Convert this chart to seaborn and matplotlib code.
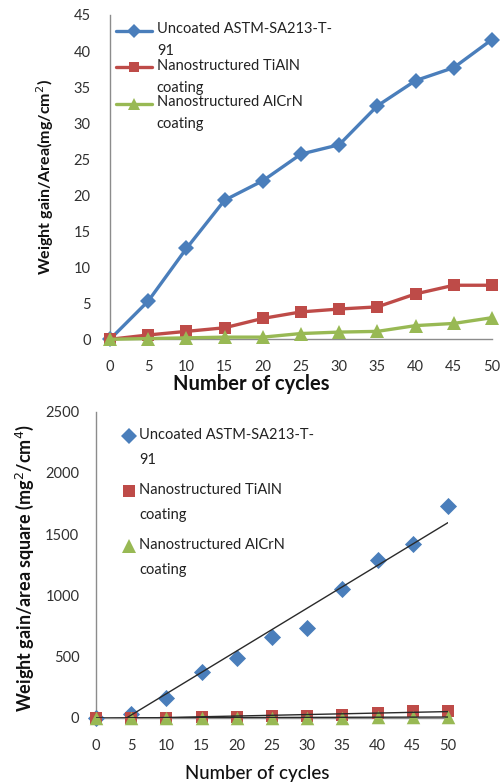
import numpy as np
import pandas as pd
import matplotlib
matplotlib.use("Agg")
import matplotlib.pyplot as plt
import seaborn as sns
from matplotlib.lines import Line2D
from matplotlib.legend_handler import HandlerLine2D

sns.set_theme(style="white")
plt.rcParams["font.family"] = ["Lato", "DejaVu Sans"]

# Data
cycles = [0, 5, 10, 15, 20, 25, 30, 35, 40, 45, 50]
uncoated = [0, 5.3, 12.6, 19.3, 22.0, 25.7, 27.0, 32.4, 35.9, 37.7, 41.6]
tialn = [0, 0.6, 1.1, 1.6, 2.9, 3.8, 4.2, 4.5, 6.3, 7.5, 7.5]
alcrn = [0, 0.1, 0.2, 0.3, 0.3, 0.8, 1.0, 1.1, 1.9, 2.2, 3.0]

uncoated_sq = [0, 28, 159, 372, 484, 660, 729, 1050, 1289, 1421, 1731]
tialn_sq = [0, 0.36, 1.2, 2.6, 8.4, 14.4, 17.6, 20.3, 39.7, 56.3, 56.3]
alcrn_sq = [0, 0.01, 0.04, 0.09, 0.09, 0.64, 1.0, 1.2, 3.6, 4.8, 9.0]

series_names = ["Uncoated ASTM-SA213-T-\n91",
                "Nanostructured TiAlN\ncoating",
                "Nanostructured AlCrN\ncoating"]
colors = ["#4A7EBB", "#BE4B48", "#98B954"]
markers = ["D", "s", "^"]
msizes = [8.5, 9, 9.5]

x_ticks = [0, 5, 10, 15, 20, 25, 30, 35, 40, 45, 50]
y_ticks_top = [0, 5, 10, 15, 20, 25, 30, 35, 40, 45]
y_ticks_bot = [0, 500, 1000, 1500, 2000, 2500]

df_top = pd.DataFrame({
    "cycles": cycles * 3,
    "value": uncoated + tialn + alcrn,
    "series": sum([[n] * len(cycles) for n in series_names], []),
})
df_bot = pd.DataFrame({
    "cycles": cycles * 3,
    "value": uncoated_sq + tialn_sq + alcrn_sq,
    "series": sum([[n] * len(cycles) for n in series_names], []),
})


class FirstLineHandler(HandlerLine2D):
    """Legend handle raised so it sits beside the first line of a wrapped label."""

    def __init__(self, shift, **kw):
        super().__init__(**kw)
        self.shift = shift

    def create_artists(self, legend, orig_handle, xdescent, ydescent, width,
                       height, fontsize, trans):
        arts = super().create_artists(legend, orig_handle, xdescent, ydescent,
                                      width, height, fontsize, trans)
        for a in arts:
            a.set_ydata(np.asarray(a.get_ydata(), dtype=float) + self.shift)
        return arts


W, H = 501, 782
fig = plt.figure(figsize=(W / 100, H / 100), dpi=100)

axis_gray = "#8C8C8C"
tick_color = "#303030"

# ---- Top panel: weight gain per area ----
ax1 = fig.add_axes([110 / W, 1 - 339.3 / H, (492 - 110) / W, (339.3 - 15) / H])
for name, c, m, ms in zip(series_names, colors, markers, msizes):
    sub = df_top[df_top["series"] == name]
    sns.lineplot(data=sub, x="cycles", y="value", ax=ax1, color=c, marker=m,
                 markersize=ms, markeredgewidth=0, linewidth=2.4,
                 clip_on=False, legend=False, zorder=3)
ax1.set_xlim(0, 50)
ax1.set_ylim(0, 45)
ax1.set_xticks(x_ticks)
ax1.set_yticks(y_ticks_top)
ax1.tick_params(axis="both", length=0, labelsize=10.5, colors=tick_color)
ax1.tick_params(axis="y", pad=14)
ax1.tick_params(axis="x", pad=15)
for s in ["top", "right"]:
    ax1.spines[s].set_visible(False)
for s in ["left", "bottom"]:
    ax1.spines[s].set_color(axis_gray)
    ax1.spines[s].set_linewidth(1)
ax1.set_xlabel("Number of cycles", fontsize=14.5, fontweight="bold", color="#111111")
ax1.xaxis.set_label_coords((251 - 110) / (492 - 110), -(384 - 339.3) / (339.3 - 15))
ax1.xaxis.label.set_va("center")
ax1.set_ylabel("Weight gain/Area(mg/cm$^2$)", fontsize=11.5, fontweight="bold", color="#111111")
ax1.yaxis.set_label_coords(-(110 - 45) / (492 - 110), 0.5)
ax1.yaxis.label.set_va("center")

handles1 = [Line2D([], [], color=c, marker=m, markersize=ms * 0.85, markeredgewidth=0,
                   linewidth=2.4) for c, m, ms in zip(colors, markers, msizes)]
leg1 = ax1.legend(handles1, series_names, loc="upper left",
                  bbox_to_anchor=((116 - 110) / (492 - 110), 1.0 - 7 / 324),
                  frameon=False, fontsize=10.5, handlelength=2.5,
                  handletextpad=0.3, labelspacing=0.02, borderpad=0,
                  borderaxespad=0,
                  handler_map={Line2D: FirstLineHandler(7.0)})
for t in leg1.get_texts():
    t.set_color("#222222")
    t.set_linespacing(1.75)

# ---- Bottom panel: squared weight gain per area ----
ax2 = fig.add_axes([96 / W, 1 - 717.7 / H, (448 - 96) / W, (717.7 - 411.7) / H])
for name, c, m, ms in zip(series_names, colors, markers, msizes):
    sub = df_bot[df_bot["series"] == name]
    sns.scatterplot(data=sub, x="cycles", y="value", ax=ax2, color=c, marker=m,
                    s=ms ** 2 * 1.05, linewidth=0, clip_on=False, legend=False,
                    zorder=3)
for name in series_names:
    sub = df_bot[df_bot["series"] == name]
    sns.regplot(data=sub, x="cycles", y="value", ax=ax2, scatter=False, ci=None,
                truncate=True, line_kws={"color": "#2A2A2A", "linewidth": 1.0,
                                         "zorder": 4})
ax2.set_xlim(0, 50)
ax2.set_ylim(0, 2500)
ax2.set_xticks(x_ticks)
ax2.set_yticks(y_ticks_bot)
ax2.tick_params(axis="both", labelsize=10.5, colors=tick_color)
ax2.tick_params(axis="y", length=5, width=1, color=axis_gray, pad=7)
ax2.tick_params(axis="x", length=0, pad=15)
for s in ["top", "right"]:
    ax2.spines[s].set_visible(False)
for s in ["left", "bottom"]:
    ax2.spines[s].set_color(axis_gray)
    ax2.spines[s].set_linewidth(1)
ax2.set_xlabel("Number of cycles", fontsize=13.5, fontweight="medium", color="#111111")
ax2.xaxis.set_label_coords((257 - 96) / (448 - 96), -(773 - 717.7) / (717.7 - 411.7))
ax2.xaxis.label.set_va("center")
ax2.set_ylabel("Weight gain/area square (mg$^2$/cm$^4$)", fontsize=13,
               fontweight="bold", color="#111111")
ax2.yaxis.set_label_coords(-(96 - 25) / (448 - 96), 0.49)
ax2.yaxis.label.set_va("center")

handles2 = [Line2D([], [], color=c, marker=m, markersize=ms, markeredgewidth=0,
                   linestyle="none") for c, m, ms in zip(colors, markers, msizes)]
leg2 = ax2.legend(handles2, series_names, loc="upper left",
                  bbox_to_anchor=((123 - 96) / (448 - 96), 1.0 - 16 / 306),
                  frameon=False, fontsize=10.5, handlelength=0.8,
                  handletextpad=0.3, labelspacing=1.1, borderpad=0,
                  borderaxespad=0,
                  handler_map={Line2D: FirstLineHandler(8.2)})
for t in leg2.get_texts():
    t.set_color("#222222")
    t.set_linespacing(2.0)

fig.savefig("out.png", dpi=100)
